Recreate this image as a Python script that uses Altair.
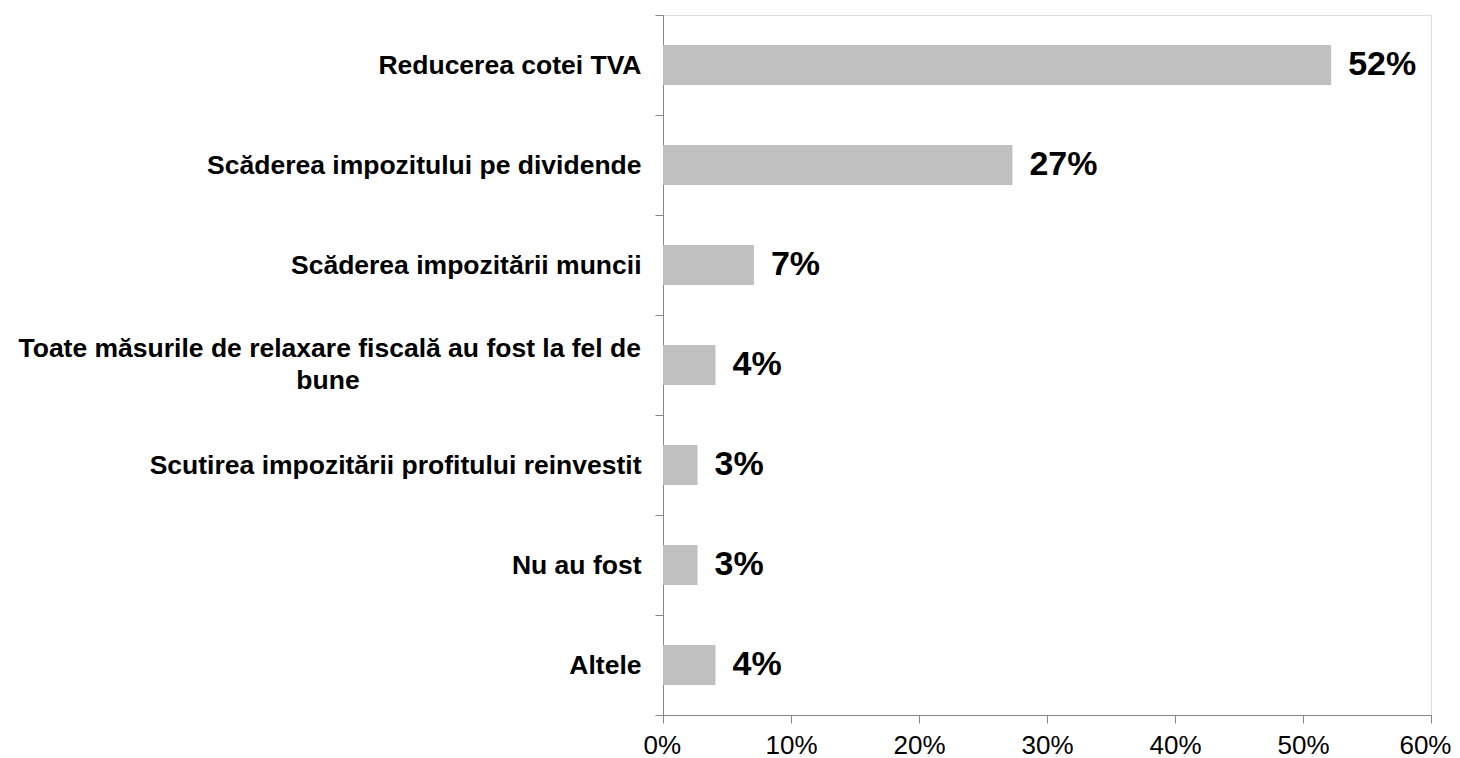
import altair as alt
import pandas as pd

categories = [
    "Reducerea cotei TVA",
    "Scăderea impozitului pe dividende",
    "Scăderea impozitării muncii",
    "Toate măsurile de relaxare fiscală au fost la fel de bune",
    "Scutirea impozitării profitului reinvestit",
    "Nu au fost",
    "Altele",
]
values = [52.2, 27.3, 7.1, 4.1, 2.7, 2.7, 4.1]
value_labels = ["52%", "27%", "7%", "4%", "3%", "3%", "4%"]

LONG = categories[3]
LONG_LINE1 = "Toate măsurile de relaxare fiscală au fost la fel de"
LONG_LINE2 = "bune"

df = pd.DataFrame({
    "cat": categories,
    "share": [v / 100 for v in values],
    "label": value_labels,
})
df_long = pd.DataFrame({"cat": [LONG], "l1": [LONG_LINE1], "l2": [LONG_LINE2]})

FONT = "Liberation Sans"
AXIS_COLOR = "#868686"
YFS = 26.5

y_enc = alt.Y(
    "cat:N",
    sort=categories,
    title=None,
    scale=alt.Scale(paddingInner=0, paddingOuter=0),
    axis=alt.Axis(
        tickBand="extent",
        tickSize=8,
        tickColor=AXIS_COLOR,
        domainColor=AXIS_COLOR,
        labelFont=FONT,
        labelFontSize=YFS,
        labelFontWeight="bold",
        labelColor="black",
        labelPadding=14,
        labelLimit=1000,
        labelExpr=f"datum.value == '{LONG}' ? '' : datum.value",
    ),
)

x_enc = alt.X(
    "share:Q",
    title=None,
    scale=alt.Scale(domain=[0, 0.6]),
    axis=alt.Axis(
        format=".0%",
        values=[0, 0.1, 0.2, 0.3, 0.4, 0.5, 0.6],
        grid=False,
        tickSize=8,
        tickColor=AXIS_COLOR,
        domainColor=AXIS_COLOR,
        labelFont=FONT,
        labelFontSize=26,
        labelColor="black",
        labelPadding=9,
        labelFlush=True,
        labelFlushOffset=20,
    ),
)

bars = alt.Chart(df).mark_bar(color="#C0C0C0", height=alt.RelativeBandSize(0.4)).encode(x=x_enc, y=y_enc)

texts = alt.Chart(df).mark_text(
    align="left", baseline="middle", dx=17, font=FONT, fontSize=34, fontWeight="bold", color="black"
).encode(x="share:Q", y=alt.Y("cat:N", sort=categories), text="label:N")

long1 = alt.Chart(df_long).mark_text(
    align="right", baseline="middle", dy=-16, font=FONT, fontSize=YFS, fontWeight="bold", color="black"
).encode(x=alt.value(-22), y=alt.Y("cat:N", sort=categories), text="l1:N")

long2 = alt.Chart(df_long).mark_text(
    align="center", baseline="middle", dy=16, font=FONT, fontSize=YFS, fontWeight="bold", color="black"
).encode(x=alt.value(-335), y=alt.Y("cat:N", sort=categories), text="l2:N")

chart = (
    alt.layer(bars, texts, long1, long2)
    .properties(
        width=768,
        height=700,
        autosize=alt.AutoSizeParams(type="none"),
        padding={"left": 655, "top": 7, "right": 21, "bottom": 44},
    )
    .configure_view(stroke=None)
    .configure(background="white")
)

chart.save("out.html", embed_options={"renderer": "svg", "actions": False})
